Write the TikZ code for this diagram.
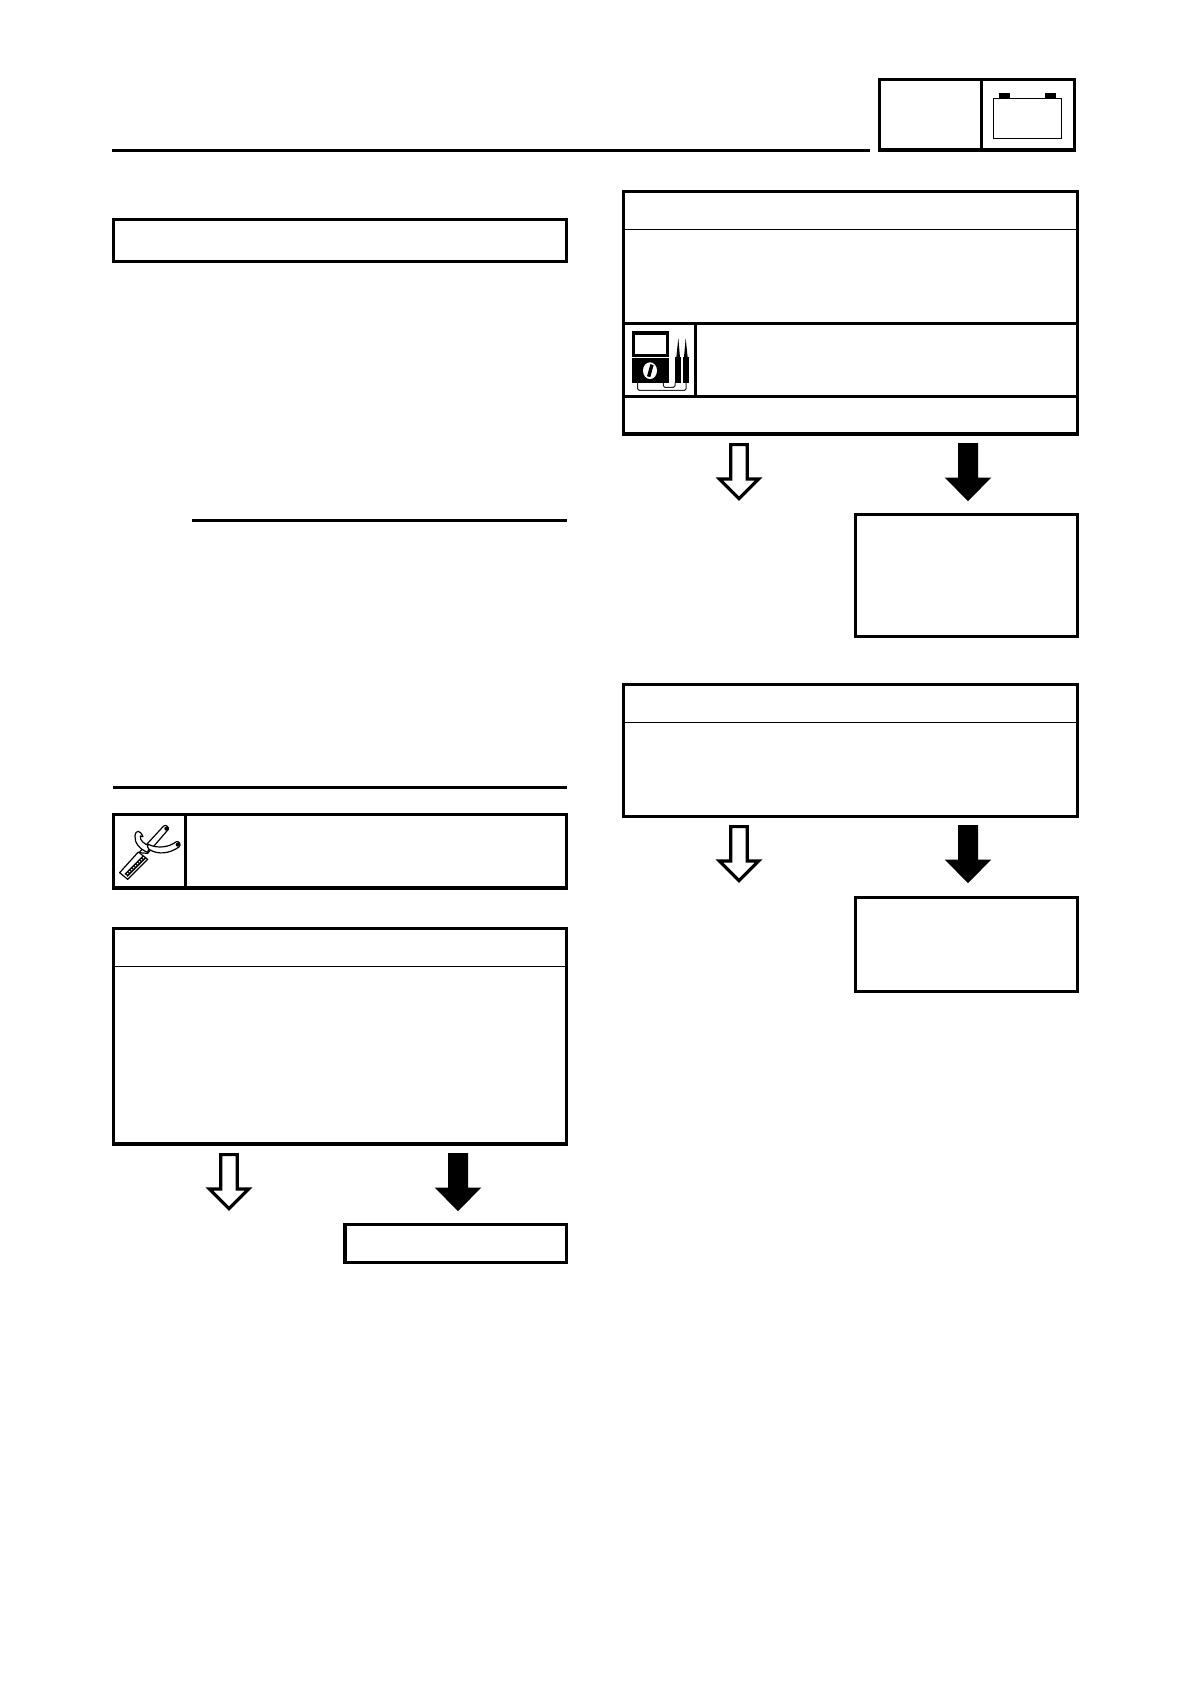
\documentclass[tikz,border=0pt]{standalone}
\tikzset{
  heavy/.style={line width=3.2pt,draw=black,line join=miter},
  hair/.style={line width=1.2pt,draw=black},
  box/.style={rectangle,heavy,inner sep=0pt,outer sep=0pt,fill=white},
  icon line/.style={line width=1.2pt,draw=black,line join=round},
  wire/.style={line width=1pt,draw=black!85,rounded corners=1.5pt},
  blank arrow/.style={heavy,fill=white},
  solid arrow/.style={fill=black,draw=none}
}
\newcommand{\boxnode}[5]{%
  \pgfmathsetmacro{\bw}{#4-#2}\pgfmathsetmacro{\bh}{#5-#3}%
  \pgfmathsetmacro{\bx}{(#4+#2)/2}\pgfmathsetmacro{\by}{(#5+#3)/2}%
  \node[box,minimum width=\bw pt,minimum height=\bh pt] (#1) at (\bx,\by) {};}
\newcommand{\whitearrow}[2]{%
  \draw[blank arrow,shift={(#1,#2)}] (-8.2,1.6) -- (8.2,1.6) -- (8.2,36) -- (19.5,36) -- (0,55.6) -- (-19.5,36) -- (-8.2,36) -- cycle;}
\newcommand{\blackarrow}[2]{%
  \fill[solid arrow,shift={(#1,#2)}] (-10,0) -- (10,0) -- (10,34.5) -- (23.3,34.5) -- (0,58.2) -- (-23.3,34.5) -- (-10,34.5) -- cycle;}
\begin{document}
\begin{tikzpicture}[x=1pt,y=-1pt]
\useasboundingbox (0,0) rectangle (1190,1684);
\fill[white] (0,0) rectangle (1190,1684);

% header
\coordinate (ruleA) at (112,150.3);
\coordinate (ruleB) at (870,150.3);
\draw[heavy] (ruleA) -- (ruleB);
\boxnode{headL}{879.3}{79.3}{981.3}{150}
\boxnode{headR}{981.3}{79.3}{1074.3}{150}
% battery
\fill[black] (999,92.7) rectangle (1010,98.5);
\fill[black] (1045,92.7) rectangle (1056,98.5);
\draw[hair,fill=white] (993.3,98.3) rectangle (1061.7,138.3);

% left column
\boxnode{title}{113.3}{219.7}{566.3}{261.3}
\coordinate (r1a) at (192,520.3);
\coordinate (r1b) at (567,520.3);
\draw[heavy] (r1a) -- (r1b);
\coordinate (r2a) at (113,787.3);
\coordinate (r2b) at (567,787.3);
\draw[heavy] (r2a) -- (r2b);

% tool row
\boxnode{toolIcon}{113.3}{814.3}{185.7}{888}
\boxnode{toolText}{185.7}{814.3}{566.3}{888}
\coordinate (r3a) at (112,888.3);
\coordinate (r3b) at (568,888.3);
\draw[heavy] (r3a) -- (r3b);
\begin{scope}[shift={(105,810)},x=0.3333pt,y=-0.3333pt]
  % spanner shaft
  \draw[icon line,fill=white] (102,128) -- (176,48) .. controls (182,43) and (192,50) .. (190,58) -- (128,130) -- cycle;
  % rasp
  \draw[icon line,fill=white] (44,188) -- (100,126) -- (128,148) -- (68,208) -- cycle;
  \draw[line width=4.2pt,draw=black] (63,196) -- (118,141);
  \draw[line width=1.2pt,draw=white,dash pattern=on 1.2pt off 1.6pt] (61,198) -- (120,139);
  % hook
  \draw[icon line,fill=white] (114,80) .. controls (106,60) and (92,58) .. (90,78) .. controls (88,98) and (104,118) .. (128,127) -- (134,108) .. controls (118,102) and (104,92) .. (106,78) -- cycle;
  \draw[icon line,fill=white] (130,103) .. controls (160,118) and (195,110) .. (214,95) .. controls (222,92) and (230,104) .. (222,111) .. controls (195,130) and (160,136) .. (132,118) .. controls (126,113) and (126,106) .. (130,103) -- cycle;
  \fill[black] (184,56) circle[radius=2pt];
  \fill[black] (218,104) circle[radius=2pt];
\end{scope}

% decision box left
\boxnode{checkA}{113.3}{928.3}{566.3}{1144}
\coordinate (tA1) at (113.3,966.3);
\coordinate (tA2) at (566.3,966.3);
\draw[hair] (tA1) -- (tA2);
\whitearrow{229}{1153}
\blackarrow{458}{1153}
\boxnode{endA}{345}{1224.3}{566.5}{1262.3}

% right column, first check
\boxnode{checkB}{623.3}{191.3}{1077.7}{323.3}
\coordinate (tB1) at (623.3,229.3);
\coordinate (tB2) at (1077.7,229.3);
\draw[hair] (tB1) -- (tB2);
\boxnode{meterIcon}{623.3}{323.3}{695.7}{396.3}
\boxnode{meterText}{695.7}{323.3}{1077.7}{396.3}
\boxnode{resultB}{623.3}{396.3}{1077.7}{434}
% meter
\begin{scope}[shift={(620,310)},x=0.3333pt,y=-0.3333pt]
  \fill[black] (36,63) rectangle (148,140);
  \fill[white] (45,74) rectangle (138,132);
  \fill[black] (36,143) rectangle (148,219);
  \fill[white] (90,182) ellipse[x radius=7pt,y radius=8.4pt];
  \draw[line width=3.4pt,draw=black] (96,164) -- (86,200);
  \fill[black] (165,142) rectangle (184,218);
  \fill[black] (188,142) rectangle (207,218);
  \fill[black] (169,142) -- (175,84) -- (180,142) -- cycle;
  \fill[black] (192,142) -- (197,84) -- (203,142) -- cycle;
  \draw[wire] (53,218) -- (53,241) -- (198,241) -- (198,218);
  \draw[wire] (130,218) -- (130,232) -- (165,232) -- (165,218);
\end{scope}
\whitearrow{739}{443}
\blackarrow{968}{443}
\boxnode{endB}{855.3}{514.3}{1077.7}{636.3}

% right column, second check
\boxnode{checkC}{623.3}{684.7}{1077.7}{816.3}
\coordinate (tC1) at (623.3,722.3);
\coordinate (tC2) at (1077.7,722.3);
\draw[hair] (tC1) -- (tC2);
\whitearrow{739}{825}
\blackarrow{968}{825}
\boxnode{endC}{855.3}{897.7}{1077.7}{991.3}
\end{tikzpicture}
\end{document}
